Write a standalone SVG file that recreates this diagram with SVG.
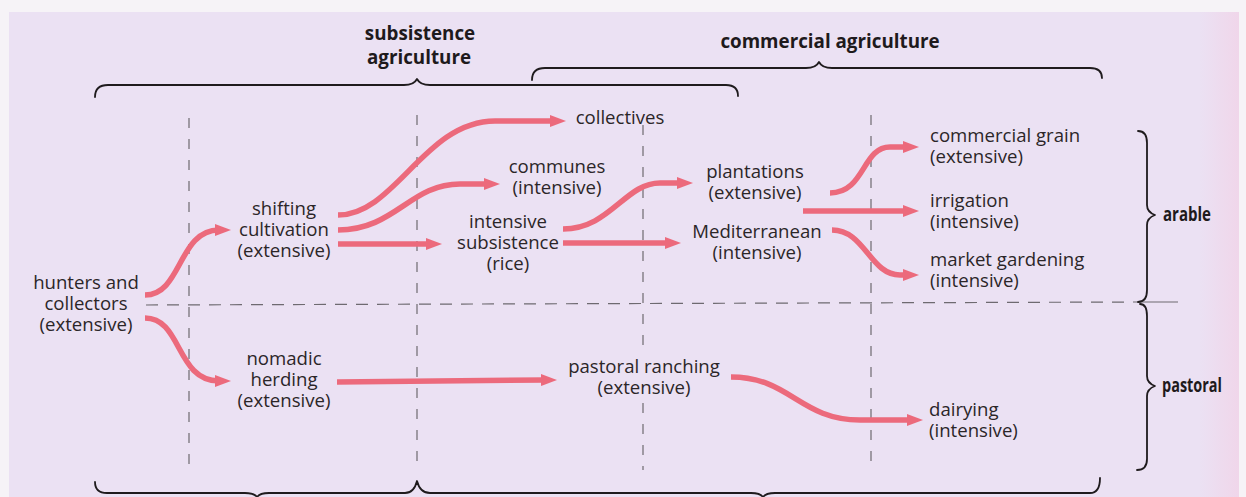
<svg xmlns="http://www.w3.org/2000/svg" width="1246" height="497" viewBox="0 0 1246 497">
<defs>
<style>
.t{font-family:"Open Sans","Noto Sans",sans-serif;font-size:18.6px;fill:#2b2628}
.c{text-anchor:middle}
.b{font-family:"Open Sans","Noto Sans",sans-serif;font-weight:bold;font-size:18.8px;fill:#1e1a1c}
.br{fill:none;stroke:#1f1b1d;stroke-width:1.8;stroke-linecap:round;stroke-linejoin:round}
.dv{fill:none;stroke:#6e6a70;stroke-width:1.2;stroke-dasharray:10 11}
.dh{fill:none;stroke:#6e6a70;stroke-width:1.2;stroke-dasharray:12 9}
.ar{fill:none;stroke:#ec6a7c;stroke-width:5.5;marker-end:url(#ah)}
</style>
<marker id="ah" markerUnits="userSpaceOnUse" viewBox="0 -6 16 12" refX="4" refY="0" markerWidth="16" markerHeight="12" orient="auto">
<path d="M0,-6 L16,0 L0,6 Z" fill="#ec6a7c"/>
</marker>
<linearGradient id="edge" x1="0" x2="1" y1="0" y2="0">
<stop offset="0" stop-color="#ebe1f3"/>
<stop offset="1" stop-color="#f0d6ea"/>
</linearGradient>
</defs>
<rect x="0" y="0" width="1246" height="497" fill="#f6f3f7"/>
<rect x="9" y="12" width="1230" height="485" fill="#ebe1f3"/>
<rect x="1200" y="12" width="39" height="485" fill="url(#edge)"/>

<g id="guides">
<path class="dv" d="M189,118 V470"/>
<path class="dv" d="M417,115 V470"/>
<path class="dv" d="M643,125 V350 M643,403 V470"/>
<path class="dv" d="M871,115 V470"/>
<path class="dh" d="M146,305 L1140,302"/>
<path d="M1140,302 H1178" stroke="#6e6a70" stroke-width="1.2"/>
</g>

<g id="brackets">
<path class="br" d="M95,97 Q95,85 108,85 L404,85 Q414,85 417,79 Q420,85 430,85 L726,85 Q738,85 738,96"/>
<path class="br" d="M532,80 Q532,68 545,68 L806,68 Q816,68 819,62 Q822,68 832,68 L1090,68 Q1102,68 1102,78"/>
<path class="br" d="M1138,131 Q1147,131 1147,143 L1147,205 Q1147,212 1155,215 Q1147,218 1147,225 L1147,290 Q1147,302 1138,302"/>
<path class="br" d="M1140,304 Q1147,304 1147,316 L1147,376 Q1147,383 1155,386 Q1147,389 1147,396 L1147,459 Q1147,470 1137,470"/>
<path class="br" d="M95,482 Q95,493 107,493 L245,493 Q254,493 257,497 Q260,493 269,493 L405,493 Q414,493 417,481 Q420,493 430,493 L751,493 Q760,493 763,497 Q766,493 775,493 L1090,493 Q1100,493 1100,478"/>
<text class="b c" x="420" y="40">subsistence</text>
<text class="b c" x="419" y="64">agriculture</text>
<text class="b c" x="830" y="48">commercial agriculture</text>
<text class="b" x="1163" y="221" font-size="17.5" textLength="48" lengthAdjust="spacingAndGlyphs">arable</text>
<text class="b" x="1162" y="392" font-size="17.5" textLength="60" lengthAdjust="spacingAndGlyphs">pastoral</text>
</g>

<g id="connectors">
<path class="ar" d="M145,295 C182,295 178,230 219,230"/>
<path class="ar" d="M145,318 C182,318 176,381 219,381"/>
<path class="ar" d="M338,215 C395,215 425,121 495,121 L554,121"/>
<path class="ar" d="M338,230 C395,230 410,184 460,184 L488,184"/>
<path class="ar" d="M338,244 L430,244"/>
<path class="ar" d="M563,229 C610,229 625,183 660,183 L681,183"/>
<path class="ar" d="M563,243 L669,243"/>
<path class="ar" d="M830,193 C865,193 862,147 890,147 L907,147"/>
<path class="ar" d="M803,211 L907,211"/>
<path class="ar" d="M832,230 C865,230 870,275 900,275 L907,275"/>
<path class="ar" d="M337,382 L545,380"/>
<path class="ar" d="M731,377 C790,377 800,420 860,420 L911,420"/>
</g>

<g id="hunters"><text class="t c" x="86" y="289">hunters and</text><text class="t c" x="86" y="310">collectors</text><text class="t c" x="86" y="331">(extensive)</text></g>
<g id="shifting"><text class="t c" x="284" y="215">shifting</text><text class="t c" x="284" y="236">cultivation</text><text class="t c" x="284" y="257">(extensive)</text></g>
<g id="nomadic"><text class="t c" x="284" y="365">nomadic</text><text class="t c" x="284" y="386">herding</text><text class="t c" x="284" y="407">(extensive)</text></g>
<g id="collectives"><text class="t c" x="620" y="124">collectives</text></g>
<g id="communes"><text class="t c" x="557" y="173">communes</text><text class="t c" x="557" y="194">(intensive)</text></g>
<g id="intensive"><text class="t c" x="508" y="228">intensive</text><text class="t c" x="508" y="249">subsistence</text><text class="t c" x="508" y="270">(rice)</text></g>
<g id="plantations"><text class="t c" x="755" y="178">plantations</text><text class="t c" x="755" y="199">(extensive)</text></g>
<g id="mediterranean"><text class="t c" x="757" y="238">Mediterranean</text><text class="t c" x="757" y="259">(intensive)</text></g>
<g id="ranching"><text class="t c" x="644" y="373">pastoral ranching</text><text class="t c" x="644" y="394">(extensive)</text></g>
<g id="grain"><text class="t" x="930" y="142">commercial grain</text><text class="t" x="930" y="163">(extensive)</text></g>
<g id="irrigation"><text class="t" x="930" y="207">irrigation</text><text class="t" x="930" y="228">(intensive)</text></g>
<g id="market"><text class="t" x="930" y="266">market gardening</text><text class="t" x="930" y="287">(intensive)</text></g>
<g id="dairying"><text class="t" x="929" y="416">dairying</text><text class="t" x="929" y="437">(intensive)</text></g>
</svg>
